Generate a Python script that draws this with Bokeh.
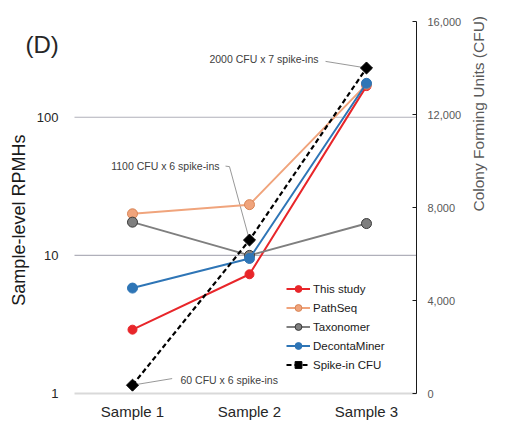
import math
from bokeh.plotting import figure
from bokeh.models import (Range1d, LinearAxis, LinearScale, FixedTicker, NumeralTickFormatter,
                          Label, Legend, LegendItem)
from bokeh.core.properties import value
from bokeh.embed import file_html
from bokeh.resources import INLINE

# ---- data ----
categories = ["Sample 1", "Sample 2", "Sample 3"]
x_idx = [0, 1, 2]
this_study = [2.9, 7.3, 168]
pathseq = [20.0, 23.3, 173]
taxonomer = [17.4, 10.0, 17.0]
decontaminer = [5.8, 9.5, 176]
spike_cfu = [360, 6600, 14000]
spike_notes = ["60 CFU x 6 spike-ins", "1100 CFU x 6 spike-ins", "2000 CFU x 7 spike-ins"]
rpmh_ticks = [1, 10, 100]
rpmh_tick_labels = ["1", "10", "100"]
rpmh_grid = [10, 100]
cfu_ticks = [0, 4000, 8000, 12000, 16000]

FONT = "Liberation Sans"
RED = "#e8262a"
ORANGE = "#f0a47c"
ORANGE_EDGE = "#d98556"
GRAY = "#7f7f7f"
GRAY_EDGE = "#3a3a3a"
BLUE = "#2e75b6"

X0, X1 = -0.4957, 2.4274      # visible plotting area (between left labels and right axis)
XL = -1.1282                  # frame extends left to hold the left-axis texts
Y_LO = 0.876                  # frame extends a little below 1 so the "1" label is not cut
CFU_LO = -343.0               # matching start of the CFU scale (0 sits on the RPMH 1 line)

p = figure(width=510, height=422,
           x_range=Range1d(XL, X1),
           y_range=Range1d(Y_LO, 493), y_axis_type="log",
           output_backend="svg", toolbar_location=None,
           min_border_left=0, min_border_right=94, min_border_top=21, min_border_bottom=20)
p.outline_line_color = None
p.background_fill_color = "white"
p.border_fill_color = "white"
p.extra_y_ranges = {"cfu": Range1d(CFU_LO, 16000)}
p.extra_y_scales = {"cfu": LinearScale()}

# x axis (its line is drawn as the baseline segment at RPMH = 1)
xa = p.xaxis[0]
xa.ticker = FixedTicker(ticks=x_idx)
xa.major_label_overrides = {i: c for i, c in zip(x_idx, categories)}
xa.axis_line_color = None
xa.major_tick_line_color = None
xa.major_tick_out = 0
xa.major_tick_in = 0
xa.minor_tick_line_color = None
xa.minor_tick_out = 0
xa.major_label_text_font = FONT
xa.major_label_text_font_size = "15px"
xa.major_label_text_color = "#262626"
xa.major_label_standoff = 1

# left axis drawn as texts inside the extended frame
p.yaxis.visible = False
p.xgrid.grid_line_color = None
p.ygrid.grid_line_color = None
p.segment(x0=[X0], y0=[rpmh_ticks[0]], x1=[X1], y1=[rpmh_ticks[0]],
          line_color="#d9d9d9", line_width=2)
p.segment(x0=[X0] * len(rpmh_grid), y0=rpmh_grid, x1=[X1] * len(rpmh_grid), y1=rpmh_grid,
          line_color="#b0b0ba", line_width=1.2)
p.text(x=[-0.632] * len(rpmh_ticks), y=rpmh_ticks, text=rpmh_tick_labels,
       text_align="right", text_baseline="middle", text_font=value(FONT),
       text_font_size="13px", text_color="#262626")
p.add_layout(Label(x=-0.974, y=18.0, text="Sample-level RPMHs", angle=math.pi / 2,
                   text_align="center", text_baseline="middle", text_font=FONT,
                   text_font_size="18px", text_color="#1a1a1a"))
p.add_layout(Label(x=-0.915, y=336.6, text="(D)", text_align="left", text_baseline="middle",
                   text_font=FONT, text_font_size="24px", text_color="#262626"))

# right axis
ra = LinearAxis(y_range_name="cfu", ticker=FixedTicker(ticks=cfu_ticks),
                formatter=NumeralTickFormatter(format="0,0"))
ra.bounds = (cfu_ticks[0], cfu_ticks[-1])
ra.axis_line_color = "#1a1a1a"
ra.axis_line_width = 1
ra.major_tick_line_color = "#1a1a1a"
ra.major_tick_in = 4
ra.major_tick_out = 0
ra.minor_tick_line_color = None
ra.minor_tick_out = 0
ra.major_label_text_font = FONT
ra.major_label_text_font_size = "11px"
ra.major_label_text_color = "#595959"
ra.major_label_standoff = 11
ra.axis_label = "Colony Forming Units (CFU)"
ra.axis_label_text_font = FONT
ra.axis_label_text_font_size = "15.5px"
ra.axis_label_text_font_style = "normal"
ra.axis_label_text_color = "#595959"
ra.axis_label_standoff = 14
ra.axis_label_orientation = math.pi / 2
p.add_layout(ra, "right")

# annotation leaders + texts (positions in data units, anchored to spike-in points)
note_pos = [(0.41, 600, "left"), (0.744, 9790, "right"), (1.59, 14400, "right")]
leader_start = [[(0.339, 643)], [(0.795, 9780), (0.829, 9759)], [(1.650, 14284)]]
for i in range(3):
    pts = leader_start[i] + [(x_idx[i], spike_cfu[i])]
    p.line([q[0] for q in pts], [q[1] for q in pts], y_range_name="cfu",
           line_color="#8c8c8c", line_width=0.9)
    tx, ty, al = note_pos[i]
    p.add_layout(Label(x=tx, y=ty, y_range_name="cfu", text=spike_notes[i],
                       text_align=al, text_baseline="middle", text_font=FONT,
                       text_font_size="10.5px", text_color="#404040"))

# series
r1l = p.line(x_idx, this_study, line_color=RED, line_width=2)
r1m = p.scatter(x_idx, this_study, size=9, fill_color=RED, line_color=RED)
r2l = p.line(x_idx, pathseq, line_color=ORANGE, line_width=2)
r2m = p.scatter(x_idx, pathseq, size=10, fill_color=ORANGE, line_color=ORANGE_EDGE, line_width=1)
r3l = p.line(x_idx, taxonomer, line_color=GRAY, line_width=2)
r3m = p.scatter(x_idx, taxonomer, size=10, fill_color=GRAY, line_color=GRAY_EDGE, line_width=1)
r4l = p.line(x_idx, decontaminer, line_color=BLUE, line_width=2)
r4m = p.scatter(x_idx, decontaminer, size=10, fill_color=BLUE, line_color=BLUE)
r5l = p.line(x_idx, spike_cfu, y_range_name="cfu", line_color="black",
             line_width=2.2, line_dash="5 3")
r5m = p.scatter(x_idx, spike_cfu, y_range_name="cfu", marker="square", angle=math.pi / 4,
                size=8.5, fill_color="black", line_color="black")

legend = Legend(items=[
    LegendItem(label="This study", renderers=[r1l, r1m]),
    LegendItem(label="PathSeq", renderers=[r2l, r2m]),
    LegendItem(label="Taxonomer", renderers=[r3l, r3m]),
    LegendItem(label="DecontaMiner", renderers=[r4l, r4m]),
    LegendItem(label="Spike-in CFU", renderers=[r5l, r5m]),
], location=(286, 28))
legend.background_fill_alpha = 0
legend.border_line_color = None
legend.padding = 0
legend.margin = 0
legend.spacing = 2
legend.glyph_height = 17
legend.label_height = 17
legend.glyph_width = 24
legend.label_standoff = 3
legend.label_text_font = FONT
legend.label_text_font_size = "11.5px"
legend.label_text_color = "#1a1a1a"
p.add_layout(legend, "center")

open("out.html", "w").write(file_html(p, INLINE))
